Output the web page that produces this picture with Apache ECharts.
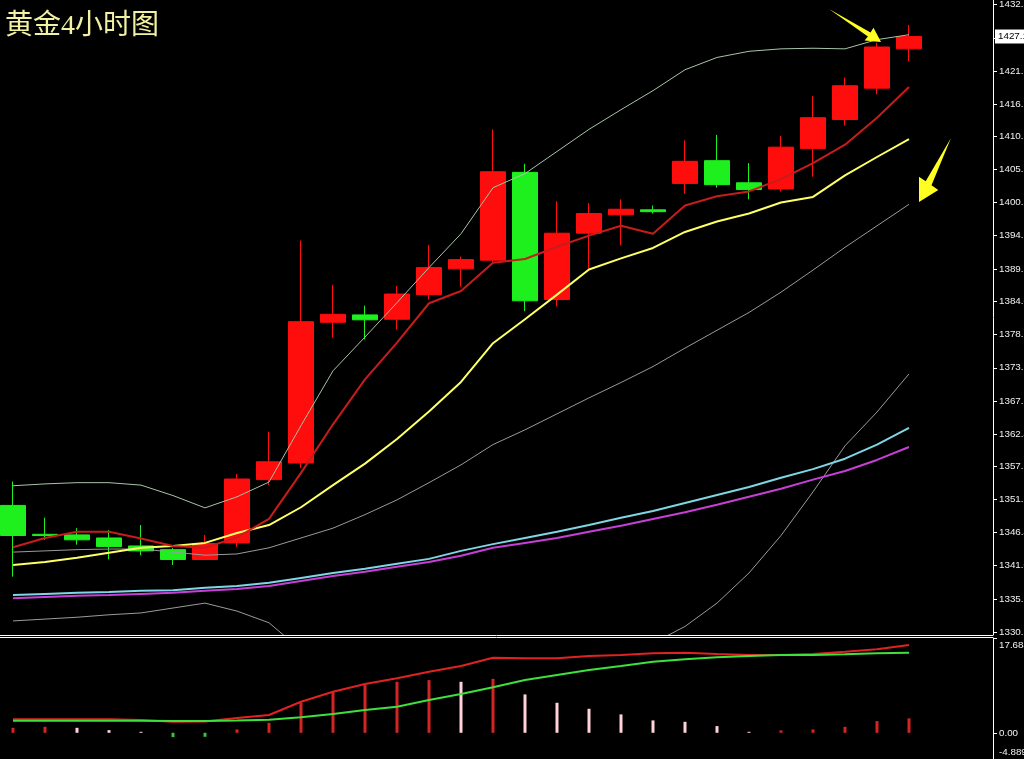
<!DOCTYPE html>
<html><head><meta charset="utf-8">
<script src="https://cdn.jsdelivr.net/npm/echarts@6/dist/echarts.min.js"></script>
<style>html,body{margin:0;padding:0;background:#000;overflow:hidden}#c{width:1024px;height:759px}</style>
</head><body><div id="c"></div>
<script>
const titleText = '黄金4小时图';
const categories = ['1','2','3','4','5','6','7','8','9','10','11','12','13','14','15','16','17','18','19','20','21','22','23','24','25','26','27','28','29','30','31'];
// [open, close, low, high]
const ohlc = [
[1350.8,1345.9,1339.2,1354.7],[1346.1,1345.9,1345.2,1348.8],[1346.0,1345.2,1344.4,1347.1],
[1345.5,1344.1,1342.0,1346.8],[1344.2,1343.4,1342.7,1347.6],[1343.6,1342.0,1341.1,1343.9],
[1342.0,1344.6,1341.9,1346.0],[1344.7,1355.1,1344.0,1355.9],[1355.0,1357.9,1354.1,1362.8],
[1357.7,1380.7,1356.9,1393.9],[1380.6,1381.9,1378.1,1386.7],[1381.8,1381.0,1377.8,1383.3],
[1381.1,1385.2,1379.4,1386.5],[1385.1,1389.5,1384.3,1393.2],[1389.3,1390.8,1386.4,1391.3],
[1390.7,1405.1,1390.4,1412.0],[1405.0,1384.1,1382.4,1406.4],[1384.3,1395.1,1383.2,1400.3],
[1395.1,1398.3,1389.3,1400.0],[1398.1,1399.0,1393.1,1400.6],[1398.9,1398.6,1398.3,1399.6],
[1403.2,1406.8,1401.5,1410.2],[1406.9,1403.0,1402.5,1411.1],[1403.3,1402.2,1400.6,1406.5],
[1402.3,1409.1,1401.9,1410.9],[1408.9,1413.9,1404.3,1417.4],[1413.6,1419.1,1412.6,1420.4],
[1418.7,1425.4,1417.7,1426.1],[1425.1,1427.1,1423.1,1429.0]
];
const ma5 = [1344.0,1345.5,1346.5,1346.5,1345.4,1344.2,1343.9,1345.6,1348.6,1356.1,1364.0,1371.3,1377.3,1383.7,1385.7,1390.3,1390.9,1392.9,1394.7,1396.3,1395.0,1399.6,1401.1,1401.9,1403.9,1406.5,1409.5,1413.9,1418.9];
const ma10 = [1341.1,1341.6,1342.3,1343.1,1343.9,1344.2,1344.7,1346.3,1347.6,1350.5,1354.1,1357.6,1361.6,1366.1,1370.9,1377.2,1381.1,1385.1,1389.2,1391.0,1392.7,1395.3,1397.0,1398.3,1400.1,1401.0,1404.5,1407.5,1410.4];
const bollUp = [1354.0,1354.3,1354.5,1354.5,1354.1,1352.4,1350.4,1352.2,1354.6,1363.8,1372.7,1378.2,1383.8,1389.5,1395.0,1402.5,1404.8,1408.4,1412.0,1415.2,1418.3,1421.7,1423.7,1424.7,1425.1,1425.2,1425.1,1426.6,1427.4];
const bollMid = [1343.2,1343.4,1343.6,1343.7,1343.7,1343.2,1342.7,1342.9,1343.9,1345.5,1347.1,1349.3,1351.7,1354.5,1357.4,1360.7,1363.1,1365.7,1368.3,1370.8,1373.4,1376.4,1379.3,1382.2,1385.5,1389.1,1392.8,1396.3,1399.8];
const bollLow = [1332.0,1332.3,1332.6,1333.0,1333.3,1334.1,1334.9,1333.6,1331.7,1327.3,1321.6,1320.3,1319.6,1319.5,1319.8,1318.8,1321.4,1323.0,1324.6,1326.3,1328.4,1331.1,1334.9,1339.8,1345.9,1353.0,1360.5,1366.0,1372.2];
const maCyan = [1336.2,1336.4,1336.6,1336.7,1336.9,1337.0,1337.4,1337.7,1338.2,1339.0,1339.8,1340.5,1341.3,1342.1,1343.4,1344.5,1345.5,1346.5,1347.6,1348.8,1349.9,1351.2,1352.5,1353.8,1355.3,1356.7,1358.4,1360.7,1363.4];
const maMagenta = [1335.7,1335.9,1336.1,1336.2,1336.4,1336.6,1336.9,1337.2,1337.7,1338.5,1339.3,1340.0,1340.8,1341.6,1342.6,1343.9,1344.7,1345.5,1346.5,1347.5,1348.6,1349.7,1350.9,1352.2,1353.5,1355.0,1356.4,1358.2,1360.3];
const macdLine = [2.52,2.52,2.52,2.52,2.39,2.07,2.11,2.76,3.32,5.80,7.67,9.10,10.17,11.40,12.46,14.01,13.90,13.90,14.33,14.51,14.83,14.94,14.70,14.51,14.51,14.70,15.13,15.58,16.38];
const signalLine = [2.26,2.26,2.26,2.26,2.26,2.20,2.20,2.29,2.44,2.89,3.52,4.25,4.87,6.12,7.24,8.49,9.85,10.78,11.72,12.46,13.26,13.71,14.09,14.33,14.51,14.51,14.65,14.83,14.94];
const macdHist = [0.93,1.12,0.93,0.50,0.19,-0.80,-0.75,0.63,1.87,5.60,7.65,8.90,9.51,9.83,9.51,10.07,7.16,5.60,4.48,3.43,2.31,2.05,1.25,0.19,0.45,0.63,1.12,2.18,2.69];
const priceTicks = [1330.2,1335.6,1341.0,1346.4,1351.8,1357.1,1362.4,1367.8,1373.2,1378.6,1384.0,1389.3,1394.7,1400.1,1405.5,1410.9,1416.1,1421.5,1426.9,1432.3];
const macdTicks = [-4.889,0,17.684];

const lastClose = ohlc[ohlc.length-1][1];
const chart = echarts.init(document.getElementById('c'), null, {renderer:'canvas'});
const axisTxt = {color:'#f0f0f0', fontSize:9.8, fontFamily:'Liberation Sans'};
const line = (name, data, color, width, z) => ({
  name, type:'line', data, xAxisIndex:0, yAxisIndex:0, symbol:'none', smooth:false,
  lineStyle:{color, width}, z: z || 3, silent:true, clip:true
});
const option = {
  backgroundColor:'#000',
  animation:false,
  title:{text:titleText, left:0, top:8, textStyle:{color:'#f2f2a2', fontSize:28, fontWeight:'normal', fontFamily:"'Liberation Serif', 'Noto Sans CJK SC'"}},
  grid:[{left:-3, top:0, width:992, height:635, containLabel:false, outerBoundsMode:'none'},
        {left:-3, top:638, width:992, height:121, containLabel:false, outerBoundsMode:'none'}],
  xAxis:[
    {type:'category', data:categories, gridIndex:0, boundaryGap:true, axisLine:{show:false}, axisTick:{show:false}, axisLabel:{show:false}, splitLine:{show:false}},
    {type:'category', data:categories, gridIndex:1, boundaryGap:true, axisLine:{show:false}, axisTick:{show:false}, axisLabel:{show:false}, splitLine:{show:false}}
  ],
  yAxis:[
    {type:'value', gridIndex:0, position:'right', offset:4, min:1329.71, max:1433.05, scale:true, z:0,
     axisLine:{show:true, lineStyle:{color:'#fff', width:1}},
     axisTick:{show:true, length:4, lineStyle:{color:'#fff'}, customValues:priceTicks},
     axisLabel:Object.assign({show:true, margin:6, customValues:priceTicks, formatter:v=>v.toFixed(1)}, axisTxt),
     splitLine:{show:false}},
    {type:'value', gridIndex:1, position:'right', offset:4, min:macdTicks[0], max:macdTicks[2],
     axisLine:{show:true, lineStyle:{color:'#fff', width:1}},
     axisTick:{show:true, length:4, lineStyle:{color:'#fff'}, customValues:macdTicks},
     axisLabel:Object.assign({show:true, margin:6, customValues:macdTicks,
       formatter:v=> v===macdTicks[2] ? '{t|'+v.toFixed(3)+'}' : (v===macdTicks[0] ? '{b|'+v.toFixed(3)+'}' : v.toFixed(2)),
       rich:{t:{padding:[14,0,0,0], color:'#f0f0f0', fontSize:9.8, fontFamily:'Liberation Sans'}, b:{padding:[0,0,14,0], color:'#f0f0f0', fontSize:9.8, fontFamily:'Liberation Sans'}}}, axisTxt),
     splitLine:{show:false}}
  ],
  series:[
    {name:'K', type:'candlestick', data:ohlc, xAxisIndex:0, yAxisIndex:0, barWidth:25, z:1, silent:true,
     itemStyle:{color:'#ff0d0d', color0:'#1ef01e', borderColor:'#ff0d0d', borderColor0:'#1ef01e', borderWidth:1}},
    {name:'PRICE', type:'line', data:[], xAxisIndex:0, yAxisIndex:0, z:20, silent:true,
     markLine:{symbol:'none', silent:true, animation:false, z:20, data:[{yAxis:lastClose}], lineStyle:{color:'rgba(0,0,0,0)', width:1, type:'solid'},
       label:{show:true, position:'end', distance:6, formatter:lastClose.toFixed(2), backgroundColor:'#ffffff', color:'#000', padding:[2,3,2,3], fontSize:9.8, fontFamily:'Liberation Sans'}}},
    line('BOLL_UP', bollUp, '#a8c4a8', 1),
    line('BOLL_MID', bollMid, '#9a9a9a', 1),
    line('BOLL_LOW', bollLow, '#9a9a9a', 1),
    line('MA_C', maCyan, '#7fd6e4', 2),
    line('MA_M', maMagenta, '#c83fd8', 2),
    line('MA10', ma10, '#ffff66', 2, 4),
    line('MA5', ma5, '#c81c1c', 2, 4),
    {name:'HIST', type:'bar', data:macdHist, xAxisIndex:1, yAxisIndex:1, barWidth:3, silent:true, z:2,
     itemStyle:{color:p=>{const i=p.dataIndex, v=macdHist[i]; if(v<0) return '#3cbf3c'; if(i>0 && v<macdHist[i-1]) return '#ffd2da'; return '#d42424';}}},
    {name:'MACD', type:'line', data:macdLine, xAxisIndex:1, yAxisIndex:1, symbol:'none', lineStyle:{color:'#e02222', width:2}, z:3, silent:true},
    {name:'SIGNAL', type:'line', data:signalLine, xAxisIndex:1, yAxisIndex:1, symbol:'none', lineStyle:{color:'#3ee03e', width:2}, z:4, silent:true}
  ],
  graphic:[
    {type:'line', shape:{x1:0, y1:635.5, x2:993, y2:635.5}, style:{stroke:'#fff', lineWidth:1}, z:10, silent:true},
    {type:'line', shape:{x1:0, y1:637.5, x2:993, y2:637.5}, style:{stroke:'#fff', lineWidth:1}, z:10, silent:true},
    {type:'polygon', shape:{points:[[829,9],[870.5,32.4],[873.5,27.8],[881,42],[864.6,40.6],[867.9,36.6]]}, style:{fill:'#ffff22'}, z:10, silent:true},
    {type:'polygon', shape:{points:[[951,138],[931.5,185.3],[938.3,190],[919,202],[919,176.7],[925.7,181.3]]}, style:{fill:'#ffff22'}, z:10, silent:true}
  ]
};
chart.setOption(option);
</script>
</body></html>
